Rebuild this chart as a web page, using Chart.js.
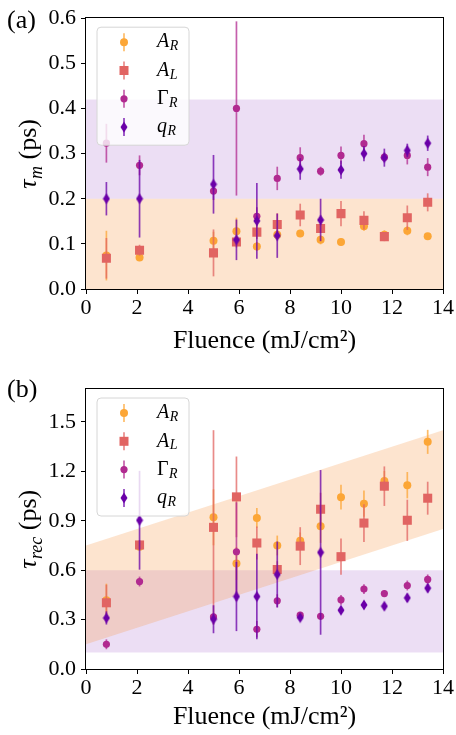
<!DOCTYPE html>
<html>
<head>
<meta charset="utf-8">
<script src="https://cdn.jsdelivr.net/npm/chart.js@4.4.0/dist/chart.umd.min.js"></script>
<style>
  html, body { margin: 0; padding: 0; background: #fff; }
  #wrap { position: relative; width: 456px; height: 735px; }
  canvas { position: absolute; left: 0; }
  #graficoA { top: 0; }
  #graficoB { top: 367px; }
</style>
</head>
<body>
<div id="wrap">
  <canvas id="graficoA" width="456" height="367"></canvas>
  <canvas id="graficoB" width="456" height="368"></canvas>
</div>
<script>
// ---- dados ----
const fluence = [0.8, 2.1, 5.0, 5.9, 6.7, 7.5, 8.4, 9.2, 10.0, 10.9, 11.7, 12.6, 13.4];
const xTicks = [0, 2, 4, 6, 8, 10, 12, 14];

// (a) tau_m (ps)
const tauM_AR     = [0.074, 0.070, 0.107, 0.128, 0.094, 0.120, 0.123, 0.109, 0.104, 0.139, 0.120, 0.129, 0.117];
const tauM_AR_err = [0.055, 0.008, 0.020, 0.030, 0.010, 0.010, 0.008, 0.010, 0.008, 0.010, 0.010, 0.010, 0.006];
const tauM_AL     = [0.068, 0.086, 0.080, 0.104, 0.126, 0.143, 0.164, 0.134, 0.167, 0.152, 0.116, 0.158, 0.192];
const tauM_AL_err = [0.045, 0.012, 0.052, 0.012, 0.015, 0.025, 0.025, 0.010, 0.028, 0.020, 0.010, 0.027, 0.020];
const tauM_GR     = [0.323, 0.274, 0.217, 0.400, 0.161, 0.245, 0.291, 0.261, 0.296, 0.322, 0.292, 0.296, 0.270];
const tauM_GR_err = [0.043, 0.022, 0.020, 0.193, 0.020, 0.026, 0.023, 0.010, 0.020, 0.020, 0.010, 0.020, 0.020];
const tauM_qR     = [0.200, 0.200, 0.232, 0.109, 0.151, 0.118, 0.266, 0.153, 0.264, 0.300, 0.291, 0.307, 0.323];
const tauM_qR_err = [0.037, 0.086, 0.065, 0.045, 0.084, 0.049, 0.024, 0.047, 0.020, 0.017, 0.020, 0.015, 0.017];
const yTicksA = [0.0, 0.1, 0.2, 0.3, 0.4, 0.5, 0.6];
const faixaA_inf = [0.0, 0.2];    // faixa laranja
const faixaA_sup = [0.2, 0.42];   // faixa roxa

// (b) tau_rec (ps)
const tauRec_AR     = [0.418, 0.742, 0.921, 0.641, 0.917, 0.750, 0.779, 0.866, 1.043, 1.004, 1.142, 1.116, 1.379];
const tauRec_AR_err = [0.100, 0.020, 0.170, 0.100, 0.060, 0.060, 0.050, 0.100, 0.075, 0.080, 0.060, 0.080, 0.073];
const tauRec_AL     = [0.402, 0.753, 0.860, 1.045, 0.765, 0.604, 0.746, 0.970, 0.682, 0.886, 1.110, 0.903, 1.037];
const tauRec_AL_err = [0.110, 0.030, 0.590, 0.245, 0.100, 0.050, 0.115, 0.100, 0.110, 0.115, 0.120, 0.125, 0.100];
const tauRec_GR     = [0.150, 0.531, 0.316, 0.712, 0.241, 0.414, 0.327, 0.320, 0.420, 0.485, 0.458, 0.507, 0.544];
const tauRec_GR_err = [0.030, 0.030, 0.020, 0.300, 0.050, 0.040, 0.020, 0.020, 0.030, 0.030, 0.020, 0.030, 0.030];
const tauRec_qR     = [0.310, 0.903, 0.302, 0.440, 0.440, 0.574, 0.312, 0.708, 0.357, 0.389, 0.381, 0.432, 0.491];
const tauRec_qR_err = [0.040, 0.300, 0.085, 0.210, 0.260, 0.200, 0.020, 0.500, 0.020, 0.020, 0.020, 0.025, 0.025];
const yTicksB = [0.0, 0.3, 0.6, 0.9, 1.2, 1.5];
const faixaB_roxa = [0.1, 0.6];
const faixaB_laranja_x = [0, 14];
const faixaB_laranja_inf = [0.15, 0.85];
const faixaB_laranja_sup = [0.75, 1.45];

// ---- estilo ----
const SERIF = '"Liberation Serif", "Times New Roman", serif';
const cores = { AR: '#fca636', AL: '#e16462', GR: '#b12a90', qR: '#6a00a8' };
const coresErro = {
  AR: 'rgba(252,166,54,0.75)', AL: 'rgba(225,100,98,0.75)',
  GR: 'rgba(177,42,144,0.75)', qR: 'rgba(106,0,168,0.75)'
};
const corLaranja = 'rgba(248,149,64,0.25)';
const corRoxa = 'rgba(106,0,168,0.13)';

// losango fino (marcador 'd' do matplotlib)
function losango(cor) {
  const c = document.createElement('canvas');
  c.width = 8; c.height = 12;
  const g = c.getContext('2d');
  g.fillStyle = cor;
  g.beginPath();
  g.moveTo(4, 0.5); g.lineTo(7.5, 6); g.lineTo(4, 11.5); g.lineTo(0.5, 6);
  g.closePath(); g.fill();
  return c;
}
const diamante = losango(cores.qR);

function pontos(ys) {
  return fluence.map((x, i) => ({ x: x, y: ys[i] }));
}

function serie(chave, ys, erros, estilo, raio, ordem) {
  return {
    type: 'scatter',
    label: chave,
    data: pontos(ys),
    erros: erros,
    corErro: coresErro[chave],
    pointStyle: estilo,
    pointRadius: raio,
    pointHoverRadius: raio,
    backgroundColor: cores[chave],
    borderColor: cores[chave],
    borderWidth: 0,
    order: ordem
  };
}

// barras de erro desenhadas logo antes dos marcadores de cada série
const barrasDeErro = {
  id: 'barrasDeErro',
  beforeDatasetDraw(chart, args) {
    const ds = chart.data.datasets[args.index];
    if (!ds.erros) return;
    const xs = chart.scales.x, ys = chart.scales.y, ctx = chart.ctx;
    ctx.save();
    ctx.strokeStyle = ds.corErro;
    ctx.lineWidth = 1.7;
    ds.data.forEach((p, i) => {
      const px = xs.getPixelForValue(p.x);
      ctx.beginPath();
      ctx.moveTo(px, ys.getPixelForValue(p.y - ds.erros[i]));
      ctx.lineTo(px, ys.getPixelForValue(p.y + ds.erros[i]));
      ctx.stroke();
    });
    ctx.restore();
  }
};

// texto com subscrito
function textoSub(ctx, base, sub, x, y, tam, baseItalico, subItalico) {
  ctx.font = (baseItalico ? 'italic ' : '') + tam + 'px ' + SERIF;
  ctx.fillText(base, x, y);
  const w = ctx.measureText(base).width;
  ctx.font = (subItalico ? 'italic ' : '') + Math.round(tam * 0.7) + 'px ' + SERIF;
  ctx.fillText(sub, x + w + 0.5, y + tam * 0.22);
  return w + 0.5 + ctx.measureText(sub).width;
}

const itensLegenda = [
  { chave: 'AR', base: 'A', sub: 'R', italico: true, marcador: 'circle' },
  { chave: 'AL', base: 'A', sub: 'L', italico: true, marcador: 'rect' },
  { chave: 'GR', base: 'Γ', sub: 'R', italico: false, marcador: 'circle' },
  { chave: 'qR', base: 'q', sub: 'R', italico: true, marcador: 'diamond' }
];

// moldura, legenda, rótulo do eixo y e letra do painel
const extras = {
  id: 'extras',
  afterDatasetsDraw(chart, args, opts) {
    const ctx = chart.ctx, a = chart.chartArea;
    ctx.save();
    // moldura
    ctx.strokeStyle = '#000';
    ctx.lineWidth = 1;
    ctx.strokeRect(Math.round(a.left) - 0.5, Math.round(a.top) - 0.5,
      Math.round(a.right - a.left) + 1, Math.round(a.bottom - a.top) + 1);

    // legenda
    const lx = a.left + 11, ly = a.top + 9, lw = 92, lh = 118;
    ctx.beginPath();
    ctx.roundRect(lx, ly, lw, lh, 4);
    ctx.fillStyle = 'rgba(255,255,255,0.8)';
    ctx.fill();
    ctx.strokeStyle = '#d6d6d6';
    ctx.stroke();
    itensLegenda.forEach((it, i) => {
      const cy = ly + 15 + i * 28.3;
      const mx = lx + 27;
      ctx.strokeStyle = coresErro[it.chave];
      ctx.lineWidth = 1.7;
      ctx.beginPath(); ctx.moveTo(mx, cy - 9); ctx.lineTo(mx, cy + 9); ctx.stroke();
      ctx.fillStyle = cores[it.chave];
      if (it.marcador === 'circle') {
        ctx.beginPath(); ctx.arc(mx, cy, it.chave === 'GR' ? 3.6 : 4, 0, Math.PI * 2); ctx.fill();
      } else if (it.marcador === 'rect') {
        ctx.fillRect(mx - 4.5, cy - 4.5, 9, 9);
      } else {
        ctx.drawImage(diamante, mx - 4, cy - 6);
      }
      ctx.fillStyle = '#000';
      ctx.textBaseline = 'middle';
      ctx.textAlign = 'left';
      textoSub(ctx, it.base, it.sub, lx + 60, cy, 20, it.italico, true);
    });

    // rótulo do eixo y (girado)
    ctx.save();
    ctx.translate(36, (a.top + a.bottom) / 2);
    ctx.rotate(-Math.PI / 2);
    ctx.textBaseline = 'alphabetic';
    ctx.textAlign = 'left';
    ctx.font = 'italic 26px ' + SERIF;
    const t1 = ctx.measureText('τ').width;
    ctx.font = 'italic 18px ' + SERIF;
    const t2 = ctx.measureText(opts.sub).width;
    ctx.font = '26px ' + SERIF;
    const t3 = ctx.measureText(' (ps)').width;
    let x0 = -(t1 + t2 + t3 + 1) / 2;
    ctx.fillStyle = '#000';
    const w = textoSub(ctx, 'τ', opts.sub, x0, 0, 26, true, true);
    ctx.font = '26px ' + SERIF;
    ctx.fillText(' (ps)', x0 + w, 0);
    ctx.restore();

    // letra do painel
    ctx.font = '26px ' + SERIF;
    ctx.fillStyle = '#000';
    ctx.textBaseline = 'alphabetic';
    ctx.textAlign = 'left';
    ctx.fillText(opts.letra, 7, a.top + opts.letraDy);
    ctx.restore();
  }
};

function montarGrafico(id, datasets, yMax, yTicks, alturaX, padTop, padTitulo, letra, sub, letraDy) {
  return new Chart(document.getElementById(id), {
    type: 'scatter',
    data: { datasets: datasets },
    plugins: [barrasDeErro, extras],
    options: {
      responsive: false,
      animation: false,
      events: [],
      layout: { padding: { left: 0, right: 13, top: padTop, bottom: 0 } },
      plugins: {
        legend: { display: false },
        tooltip: { enabled: false },
        extras: { letra: letra, sub: sub, letraDy: letraDy }
      },
      scales: {
        x: {
          type: 'linear', min: 0, max: 14,
          afterBuildTicks: s => { s.ticks = xTicks.map(v => ({ value: v })); },
          afterFit: s => { s.height = alturaX; },
          grid: { display: true, drawOnChartArea: false, drawTicks: true, tickLength: 5, color: '#000', lineWidth: 1 },
          border: { display: false },
          ticks: { color: '#000', font: { family: SERIF, size: 22 }, padding: 1, maxRotation: 0 },
          title: { display: true, text: 'Fluence (mJ/cm²)', color: '#000',
                   font: { family: SERIF, size: 26, lineHeight: 1 }, padding: { top: 0, bottom: padTitulo } }
        },
        y: {
          type: 'linear', min: 0, max: yMax,
          afterBuildTicks: s => { s.ticks = yTicks.map(v => ({ value: v })); },
          afterFit: s => { s.width = 86; },
          grid: { display: true, drawOnChartArea: false, drawTicks: true, tickLength: 5, color: '#000', lineWidth: 1 },
          border: { display: false },
          ticks: { color: '#000', font: { family: SERIF, size: 22 }, padding: 5, callback: v => v.toFixed(1) }
        }
      }
    }
  });
}

// ---- painel (a) ----
const dadosA = [
  { type: 'line', data: [{ x: 0, y: faixaA_inf[1] }, { x: 14, y: faixaA_inf[1] }],
    fill: { value: faixaA_inf[0] }, backgroundColor: corLaranja, borderWidth: 0, pointRadius: 0, order: 20 },
  { type: 'line', data: [{ x: 0, y: faixaA_sup[1] }, { x: 14, y: faixaA_sup[1] }],
    fill: { value: faixaA_sup[0] }, backgroundColor: corRoxa, borderWidth: 0, pointRadius: 0, order: 19 },
  serie('AR', tauM_AR, tauM_AR_err, 'circle', 4, 4),
  serie('AL', tauM_AL, tauM_AL_err, 'rect', 6.4, 3),
  serie('GR', tauM_GR, tauM_GR_err, 'circle', 3.6, 2),
  serie('qR', tauM_qR, tauM_qR_err, diamante, 5, 1)
];
montarGrafico('graficoA', dadosA, 0.6, yTicksA, 78, 11, 13, '(a)', 'm', 10);

// ---- painel (b) ----
const dadosB = [
  { type: 'line', data: [{ x: 0, y: faixaB_roxa[1] }, { x: 14, y: faixaB_roxa[1] }],
    fill: { value: faixaB_roxa[0] }, backgroundColor: corRoxa, borderWidth: 0, pointRadius: 0, order: 20 },
  { type: 'line', data: faixaB_laranja_x.map((x, i) => ({ x: x, y: faixaB_laranja_sup[i] })),
    fill: '+1', backgroundColor: corLaranja, borderWidth: 0, pointRadius: 0, order: 19 },
  { type: 'line', data: faixaB_laranja_x.map((x, i) => ({ x: x, y: faixaB_laranja_inf[i] })),
    fill: false, borderWidth: 0, pointRadius: 0, order: 18 },
  serie('AR', tauRec_AR, tauRec_AR_err, 'circle', 4, 4),
  serie('AL', tauRec_AL, tauRec_AL_err, 'rect', 6.4, 3),
  serie('GR', tauRec_GR, tauRec_GR_err, 'circle', 3.6, 2),
  serie('qR', tauRec_qR, tauRec_qR_err, diamante, 5, 1)
];
montarGrafico('graficoB', dadosB, 1.7, yTicksB, 66, 22, 4.5, '(b)', 'rec', 8);
</script>
</body>
</html>
